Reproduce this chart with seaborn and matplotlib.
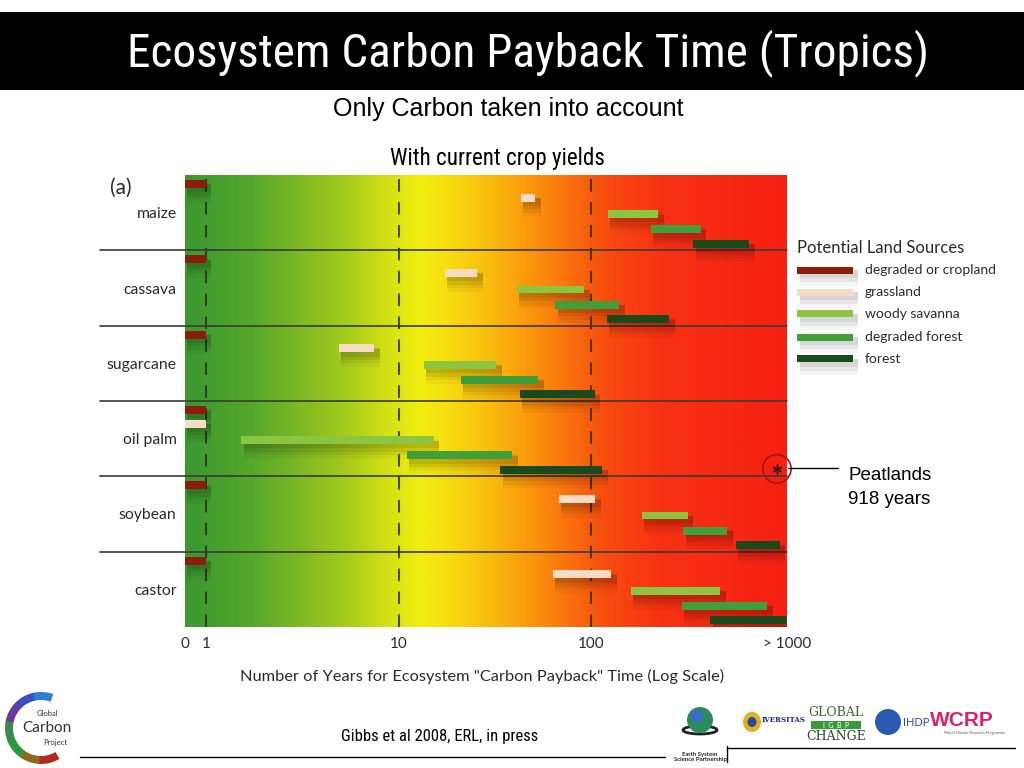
import numpy as np
import pandas as pd
import matplotlib
matplotlib.use("Agg")
import matplotlib.pyplot as plt
import seaborn as sns
from matplotlib.colors import LinearSegmentedColormap
from matplotlib.patches import Rectangle, Circle, Wedge, Ellipse
from matplotlib.lines import Line2D

# ---------------- data ----------------
crops = ["maize", "cassava", "sugarcane", "oil palm", "soybean", "castor"]
sources = ["degraded or cropland", "grassland", "woody savanna", "degraded forest", "forest"]
source_colors = ["#8e1c0c", "#f6dcc4", "#8cc540", "#3f9f3a", "#184a1c"]

degraded_start = [0, 0, 0, 0, 0, 0]
degraded_end = [1, 1, 1, 1, 1, 1]
grassland_start = [43, 17.4, 4.9, 0, 68, 63]
grassland_end = [51, 25.5, 7.5, 1, 105, 127]
savanna_start = [122, 41, 13.5, 1.53, 183, 160]
savanna_end = [223, 92, 32, 15.2, 316, 465]
degforest_start = [203, 65, 21, 11, 300, 295]
degforest_end = [370, 139, 53, 39, 507, 815]
forest_start = [339, 120, 42.6, 33.7, 560, 415]
forest_end = [658, 253, 104, 114, 950, 1040]

peat_value = 918
peat_label = ["Peatlands", "918 years"]

tick_values = [0, 1, 10, 100, 1000]
tick_labels = ["0", "1", "10", "100", "> 1000"]
dashed_years = [1, 10, 100]

# ---------------- layout constants ----------------
W, H = 1024, 768
X_ZERO = 0.78     # where "0" sits on the log axis
X_MAX = 1036      # right edge ("> 1000")
slot = [0.12, 0.30, 0.52, 0.72, 0.91]
bar_h = 0.105

def fx(x):
    return x / W

def fy(y):
    return 1 - y / H

starts = [degraded_start, grassland_start, savanna_start, degforest_start, forest_start]
ends = [degraded_end, grassland_end, savanna_end, degforest_end, forest_end]
rows = []
for si, s in enumerate(sources):
    for ci, c in enumerate(crops):
        rows.append(dict(crop=c, source=s, start=starts[si][ci], end=ends[si][ci],
                         y=ci + slot[si], color=source_colors[si]))
df = pd.DataFrame(rows)
df["x0"] = df["start"].where(df["start"] > 0, X_ZERO)

sns.set_theme(style="white")
plt.rcParams["font.family"] = ["Lato", "DejaVu Sans"]
NARROW = ["Roboto Condensed", "Liberation Sans", "DejaVu Sans"]
ARIAL = ["Liberation Sans", "DejaVu Sans"]

fig = plt.figure(figsize=(10.24, 7.68), dpi=100)
fig.patch.set_facecolor("white")

ax_rect = [fx(185), fy(627), fx(787) - fx(185), (627 - 175) / H]

# gradient background
grad_cols = [(0.00, "#3a982f"), (0.11, "#55a82a"), (0.19, "#7db925"), (0.27, "#a8cc1c"),
             (0.34, "#d6e214"), (0.39, "#f2ee10"), (0.43, "#f6e010"), (0.50, "#f9c00e"),
             (0.57, "#fb980c"), (0.64, "#f9700e"), (0.70, "#f84c10"), (0.79, "#f73212"),
             (1.00, "#f52012")]
cmap = LinearSegmentedColormap.from_list("payback", grad_cols)
bg = fig.add_axes(ax_rect, zorder=0)
bg.imshow(np.linspace(0, 1, 512)[None, :], aspect="auto", cmap=cmap,
          extent=[0, 1, 0, 1], interpolation="bilinear")
bg.set_axis_off()

ax = fig.add_axes(ax_rect, zorder=1)
ax.set_facecolor("none")
ax.set_xscale("log")
ax.set_xlim(X_ZERO, X_MAX)
ax.set_ylim(len(crops), 0)

# dashed reference lines
for v in dashed_years:
    ax.axvline(v, color="#2e2e2e", lw=1.5, ls=(0, (6, 5)), alpha=0.85, zorder=1)

# row separators (extend into label area)
for i in range(1, len(crops)):
    ax.plot([-0.141, 1.0], [i, i], transform=ax.get_yaxis_transform(),
            color="#3a3a3a", lw=1.2, clip_on=False, zorder=2)

# soft shadows
for dy, hh, a in [(0.06, 0.10, 0.08), (0.08, 0.15, 0.07), (0.10, 0.20, 0.05), (0.12, 0.26, 0.04)]:
    ax.barh(df["y"] + dy, df["end"] * 1.07 - df["x0"] * 1.03, left=df["x0"] * 1.03,
            height=hh, color="black", alpha=a, linewidth=0, zorder=3)

# bars
ax.barh(df["y"], df["end"] - df["x0"], left=df["x0"], height=bar_h,
        color=df["color"], linewidth=0, zorder=4)

# peatland marker
peat_y = 3 + 0.9
ax.scatter([peat_value], [peat_y], s=420, facecolors="none", edgecolors="#b01010",
           linewidths=1.2, zorder=5, clip_on=False)
ax.scatter([peat_value], [peat_y], s=40, marker=(6, 2, 0), color="#3a1a10",
           linewidths=1.0, zorder=5)
fig.add_artist(Line2D([fx(788), fx(838)], [fy(468), fy(468)], color="black", lw=1.0))
fig.text(fx(848), fy(475), peat_label[0], family=ARIAL, fontsize=13.5, color="black",
         ha="left", va="center")
fig.text(fx(848), fy(500), peat_label[1], family=ARIAL, fontsize=13.5, color="black",
         ha="left", va="center")

# axes styling
tick_pos = [X_ZERO if v == 0 else (X_MAX if v == 1000 else v) for v in tick_values]
ax.set_xticks(tick_pos)
ax.set_xticklabels(tick_labels)
ax.xaxis.set_minor_locator(matplotlib.ticker.NullLocator())
ax.set_yticks([i + 0.5 for i in range(len(crops))])
ax.set_yticklabels(crops)
ax.tick_params(axis="x", length=0, pad=7, labelsize=11, labelcolor="#2a2a2a")
ax.tick_params(axis="y", length=0, pad=6, labelsize=11.3, labelcolor="#2a2a2a")
for sp in ax.spines.values():
    sp.set_visible(False)
ax.grid(False)

fig.text(fx(482), fy(676), 'Number of Years for Ecosystem "Carbon Payback" Time (Log Scale)',
         fontsize=11.8, color="#2a2a2a", ha="center", va="center")
fig.text(fx(110), fy(188), "(a)", fontsize=15, color="#2a2a2a", ha="left", va="center")

# legend
fig.text(fx(797), fy(248), "Potential Land Sources", fontsize=12, color="#2a2a2a",
         ha="left", va="center")
leg_y = [270, 292, 314, 337, 359]
for s, c, yy in zip(sources, source_colors, leg_y):
    for dy, hh, a in [(4, 8, 0.07), (6, 12, 0.06), (8, 16, 0.04)]:
        fig.add_artist(Rectangle((fx(800), fy(yy + dy + hh / 2)), fx(58), hh / H,
                                 color="black", alpha=a, lw=0))
    fig.add_artist(Rectangle((fx(797), fy(yy + 3.5)), fx(56), 7 / H, color=c, lw=0))
    fig.text(fx(865), fy(yy), s, fontsize=10, color="#2a2a2a", ha="left", va="center")

# title bar
fig.add_artist(Rectangle((0, fy(90)), 1, (90 - 12) / H, color="black", lw=0, zorder=0))
fig.text(fx(528), fy(53), "Ecosystem Carbon Payback Time (Tropics)", family=NARROW,
         fontsize=34, color="white", ha="center", va="center")
fig.text(fx(508), fy(109), "Only Carbon taken into account", family=ARIAL,
         fontsize=18, color="black", ha="center", va="center")
fig.text(fx(497), fy(159), "With current crop yields", family=NARROW,
         fontsize=16.6, color="black", ha="center", va="center")

# footer
fig.text(fx(440), fy(737), "Gibbs et al 2008, ERL, in press", family=NARROW,
         fontsize=12, color="black", ha="center", va="center")
fig.add_artist(Line2D([fx(80), fx(665)], [fy(757), fy(757)], color="black", lw=1.0))
fig.add_artist(Line2D([fx(727), fx(1015)], [fy(748), fy(748)], color="black", lw=1.0))
fig.add_artist(Line2D([fx(727), fx(727)], [fy(746), fy(762)], color="black", lw=1.0))

# Global Carbon Project logo (approximation)
lax = fig.add_axes([fx(3), fy(766), fx(80), 76 / H])
lax.set_xlim(0, 80)
lax.set_ylim(0, 76)
lax.set_aspect("equal")
lax.set_axis_off()
ring_cols = ["#2a7fd0", "#3a4fc0", "#6a3aa0", "#3a8a50", "#2a9a40", "#8a6a20", "#b02a20"]
angs = np.linspace(70, 300, len(ring_cols) + 1)
for k, c in enumerate(ring_cols):
    lax.add_patch(Wedge((38, 38), 36, angs[k], angs[k + 1] + 1, width=8, color=c, lw=0))
lax.text(44, 52, "Global", fontsize=5.5, color="#333", ha="center", va="center")
lax.text(44, 38, "Carbon", fontsize=11, color="#333", ha="center", va="center")
lax.text(52, 24, "Project", fontsize=5.5, color="#333", ha="center", va="center")

# partner logos (approximation)
fig.add_artist(Ellipse((fx(700), fy(730)), fx(34), 8 / H, fill=False, ec="#222", lw=2))
fig.add_artist(Ellipse((fx(700), fy(720)), fx(26), 26 / H, color="#2a8a5a", lw=0))
fig.add_artist(Ellipse((fx(697), fy(716)), fx(12), 12 / H, color="#3a6ad0", lw=0))
fig.text(fx(700), fy(757), "Earth System\nScience Partnership", fontsize=4.3, weight="bold",
         color="#222", ha="center", va="center", linespacing=1.0)
fig.add_artist(Ellipse((fx(752), fy(722)), fx(18), 20 / H, color="#e0b020", lw=0))
fig.add_artist(Ellipse((fx(752), fy(722)), fx(9), 10 / H, color="#2a4aa0", lw=0))
fig.text(fx(762), fy(720), "IVERSITAS", family="DejaVu Serif", fontsize=5, weight="bold",
         color="#1a2a80", ha="left", va="center")
fig.text(fx(836), fy(713), "GLOBAL", family="DejaVu Serif", fontsize=9, color="#3a6a2a",
         ha="center", va="center")
fig.add_artist(Rectangle((fx(811), fy(729)), fx(50), 8 / H, color="#3a9a3a", lw=0))
fig.text(fx(836), fy(725), "I  G  B  P", fontsize=5, color="white", ha="center", va="center")
fig.text(fx(836), fy(737), "CHANGE", family="DejaVu Serif", fontsize=9, color="#2a4a2a",
         ha="center", va="center")
fig.add_artist(Ellipse((fx(888), fy(722)), fx(26), 26 / H, color="#2a5ab0", lw=0))
fig.text(fx(903), fy(723), "IHDP", fontsize=8, color="#2a4aa0", ha="left", va="center")
fig.text(fx(930), fy(720), "WCRP", family=ARIAL, fontsize=15, weight="bold", color="#e0206a",
         ha="left", va="center")
fig.text(fx(975), fy(733), "World Climate Research Programme", fontsize=2.8, color="#555",
         ha="center", va="center")

fig.savefig("out.png", dpi=100)
